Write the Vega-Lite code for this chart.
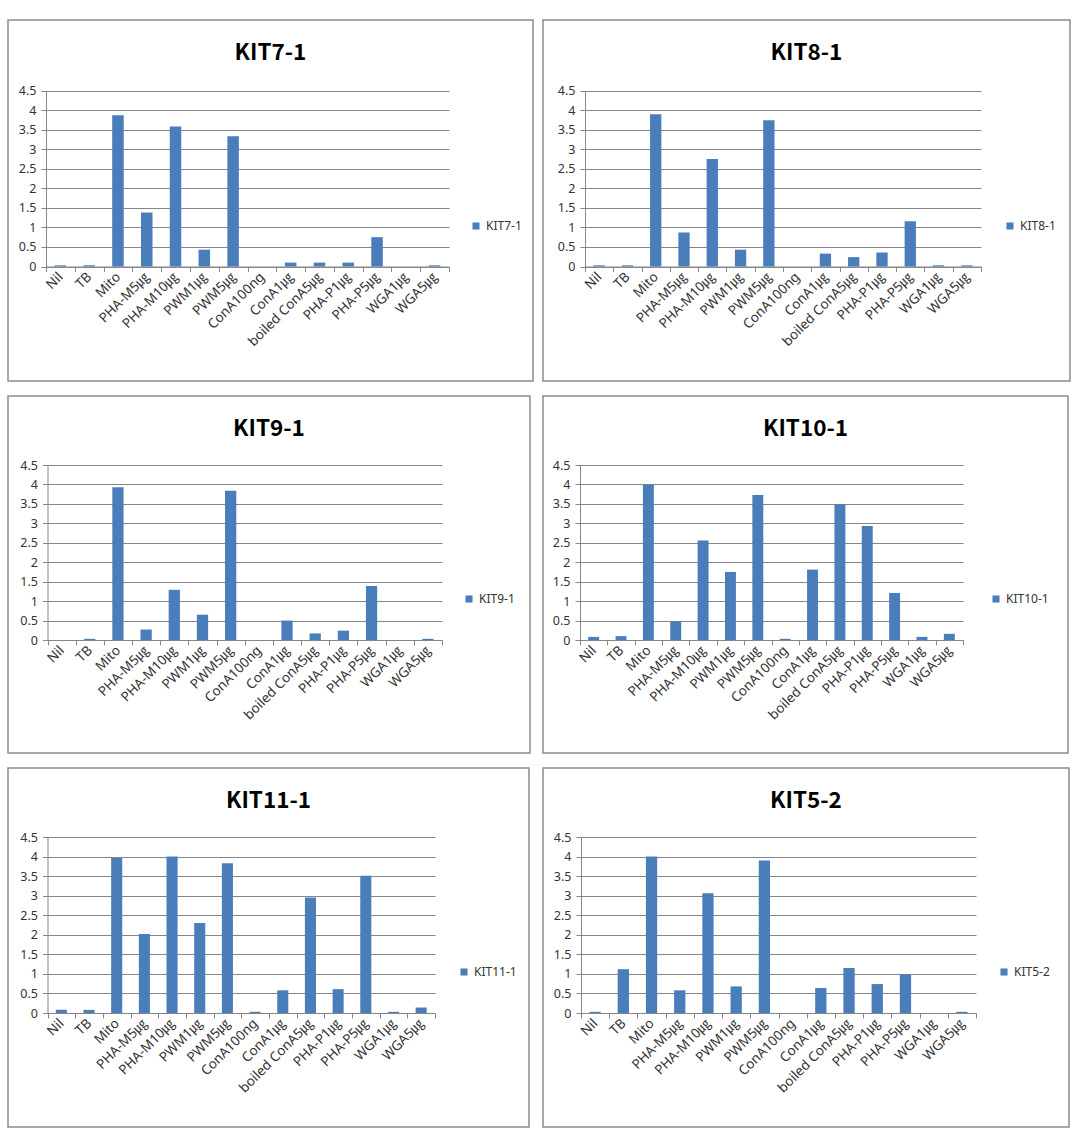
{
  "$schema": "https://vega.github.io/schema/vega-lite/v6.json",
  "padding": {"left": 2, "top": 19, "right": 0, "bottom": 0},
  "background": "white",
  "data": {"values": [
    {"kit": "KIT7-1", "cond": "Nil", "value": 0.03},
    {"kit": "KIT7-1", "cond": "TB", "value": 0.03},
    {"kit": "KIT7-1", "cond": "Mito", "value": 3.87},
    {"kit": "KIT7-1", "cond": "PHA-M5㎍", "value": 1.38},
    {"kit": "KIT7-1", "cond": "PHA-M10㎍", "value": 3.58},
    {"kit": "KIT7-1", "cond": "PWM1㎍", "value": 0.43},
    {"kit": "KIT7-1", "cond": "PWM5㎍", "value": 3.33},
    {"kit": "KIT7-1", "cond": "ConA100ng", "value": 0},
    {"kit": "KIT7-1", "cond": "ConA1㎍", "value": 0.1},
    {"kit": "KIT7-1", "cond": "boiled ConA5㎍", "value": 0.1},
    {"kit": "KIT7-1", "cond": "PHA-P1㎍", "value": 0.1},
    {"kit": "KIT7-1", "cond": "PHA-P5㎍", "value": 0.75},
    {"kit": "KIT7-1", "cond": "WGA1㎍", "value": 0},
    {"kit": "KIT7-1", "cond": "WGA5㎍", "value": 0.03},
    {"kit": "KIT8-1", "cond": "Nil", "value": 0.03},
    {"kit": "KIT8-1", "cond": "TB", "value": 0.03},
    {"kit": "KIT8-1", "cond": "Mito", "value": 3.89},
    {"kit": "KIT8-1", "cond": "PHA-M5㎍", "value": 0.87},
    {"kit": "KIT8-1", "cond": "PHA-M10㎍", "value": 2.75},
    {"kit": "KIT8-1", "cond": "PWM1㎍", "value": 0.43},
    {"kit": "KIT8-1", "cond": "PWM5㎍", "value": 3.74},
    {"kit": "KIT8-1", "cond": "ConA100ng", "value": 0},
    {"kit": "KIT8-1", "cond": "ConA1㎍", "value": 0.33},
    {"kit": "KIT8-1", "cond": "boiled ConA5㎍", "value": 0.24},
    {"kit": "KIT8-1", "cond": "PHA-P1㎍", "value": 0.36},
    {"kit": "KIT8-1", "cond": "PHA-P5㎍", "value": 1.16},
    {"kit": "KIT8-1", "cond": "WGA1㎍", "value": 0.03},
    {"kit": "KIT8-1", "cond": "WGA5㎍", "value": 0.03},
    {"kit": "KIT9-1", "cond": "Nil", "value": 0},
    {"kit": "KIT9-1", "cond": "TB", "value": 0.03},
    {"kit": "KIT9-1", "cond": "Mito", "value": 3.93},
    {"kit": "KIT9-1", "cond": "PHA-M5㎍", "value": 0.27},
    {"kit": "KIT9-1", "cond": "PHA-M10㎍", "value": 1.29},
    {"kit": "KIT9-1", "cond": "PWM1㎍", "value": 0.65},
    {"kit": "KIT9-1", "cond": "PWM5㎍", "value": 3.84},
    {"kit": "KIT9-1", "cond": "ConA100ng", "value": 0},
    {"kit": "KIT9-1", "cond": "ConA1㎍", "value": 0.5},
    {"kit": "KIT9-1", "cond": "boiled ConA5㎍", "value": 0.17},
    {"kit": "KIT9-1", "cond": "PHA-P1㎍", "value": 0.24},
    {"kit": "KIT9-1", "cond": "PHA-P5㎍", "value": 1.39},
    {"kit": "KIT9-1", "cond": "WGA1㎍", "value": 0},
    {"kit": "KIT9-1", "cond": "WGA5㎍", "value": 0.03},
    {"kit": "KIT10-1", "cond": "Nil", "value": 0.08},
    {"kit": "KIT10-1", "cond": "TB", "value": 0.1},
    {"kit": "KIT10-1", "cond": "Mito", "value": 4.0},
    {"kit": "KIT10-1", "cond": "PHA-M5㎍", "value": 0.48},
    {"kit": "KIT10-1", "cond": "PHA-M10㎍", "value": 2.56},
    {"kit": "KIT10-1", "cond": "PWM1㎍", "value": 1.75},
    {"kit": "KIT10-1", "cond": "PWM5㎍", "value": 3.73},
    {"kit": "KIT10-1", "cond": "ConA100ng", "value": 0.03},
    {"kit": "KIT10-1", "cond": "ConA1㎍", "value": 1.81},
    {"kit": "KIT10-1", "cond": "boiled ConA5㎍", "value": 3.49},
    {"kit": "KIT10-1", "cond": "PHA-P1㎍", "value": 2.93},
    {"kit": "KIT10-1", "cond": "PHA-P5㎍", "value": 1.21},
    {"kit": "KIT10-1", "cond": "WGA1㎍", "value": 0.08},
    {"kit": "KIT10-1", "cond": "WGA5㎍", "value": 0.16},
    {"kit": "KIT11-1", "cond": "Nil", "value": 0.08},
    {"kit": "KIT11-1", "cond": "TB", "value": 0.08},
    {"kit": "KIT11-1", "cond": "Mito", "value": 3.96},
    {"kit": "KIT11-1", "cond": "PHA-M5㎍", "value": 2.02},
    {"kit": "KIT11-1", "cond": "PHA-M10㎍", "value": 4.0},
    {"kit": "KIT11-1", "cond": "PWM1㎍", "value": 2.3},
    {"kit": "KIT11-1", "cond": "PWM5㎍", "value": 3.83},
    {"kit": "KIT11-1", "cond": "ConA100ng", "value": 0.03},
    {"kit": "KIT11-1", "cond": "ConA1㎍", "value": 0.58},
    {"kit": "KIT11-1", "cond": "boiled ConA5㎍", "value": 2.95},
    {"kit": "KIT11-1", "cond": "PHA-P1㎍", "value": 0.61},
    {"kit": "KIT11-1", "cond": "PHA-P5㎍", "value": 3.51},
    {"kit": "KIT11-1", "cond": "WGA1㎍", "value": 0.03},
    {"kit": "KIT11-1", "cond": "WGA5㎍", "value": 0.14},
    {"kit": "KIT5-2", "cond": "Nil", "value": 0.03},
    {"kit": "KIT5-2", "cond": "TB", "value": 1.12},
    {"kit": "KIT5-2", "cond": "Mito", "value": 4.0},
    {"kit": "KIT5-2", "cond": "PHA-M5㎍", "value": 0.58},
    {"kit": "KIT5-2", "cond": "PHA-M10㎍", "value": 3.06},
    {"kit": "KIT5-2", "cond": "PWM1㎍", "value": 0.68},
    {"kit": "KIT5-2", "cond": "PWM5㎍", "value": 3.9},
    {"kit": "KIT5-2", "cond": "ConA100ng", "value": 0},
    {"kit": "KIT5-2", "cond": "ConA1㎍", "value": 0.64},
    {"kit": "KIT5-2", "cond": "boiled ConA5㎍", "value": 1.15},
    {"kit": "KIT5-2", "cond": "PHA-P1㎍", "value": 0.74},
    {"kit": "KIT5-2", "cond": "PHA-P5㎍", "value": 0.99},
    {"kit": "KIT5-2", "cond": "WGA1㎍", "value": 0},
    {"kit": "KIT5-2", "cond": "WGA5㎍", "value": 0.03}
  ]},
  "columns": 2,
  "spacing": {"row": 15, "column": 10},
  "bounds": "flush",
  "align": "each",
  "concat": [
    {
      "width": 525, "height": 361,
      "transform": [{"filter": "datum.kit === 'KIT7-1'"}],
      "title": {"text": "KIT7-1"},
      "mark": {"type": "bar", "width": {"band": 0.4}},
      "encoding": {
        "x": {"field": "cond", "type": "nominal", "sort": ["Nil","TB","Mito","PHA-M5㎍","PHA-M10㎍","PWM1㎍","PWM5㎍","ConA100ng","ConA1㎍","boiled ConA5㎍","PHA-P1㎍","PHA-P5㎍","WGA1㎍","WGA5㎍"], "scale": {"range": [38, 441], "paddingInner": 0, "paddingOuter": 0}, "axis": {"offset": -114.5}},
        "y": {"field": "value", "type": "quantitative", "scale": {"domain": [0, 4.5], "range": [246.5, 70.5], "nice": false}, "axis": {"offset": -38}},
        "color": {"field": "kit", "type": "nominal", "scale": {"range": ["#4A7EBB"]}, "legend": {"orient": "none", "legendX": 462, "legendY": 200}}
      }
    },
    {
      "width": 527, "height": 361,
      "transform": [{"filter": "datum.kit === 'KIT8-1'"}],
      "title": {"text": "KIT8-1"},
      "mark": {"type": "bar", "width": {"band": 0.4}},
      "encoding": {
        "x": {"field": "cond", "type": "nominal", "sort": ["Nil","TB","Mito","PHA-M5㎍","PHA-M10㎍","PWM1㎍","PWM5㎍","ConA100ng","ConA1㎍","boiled ConA5㎍","PHA-P1㎍","PHA-P5㎍","WGA1㎍","WGA5㎍"], "scale": {"range": [42, 438], "paddingInner": 0, "paddingOuter": 0}, "axis": {"offset": -114.5}},
        "y": {"field": "value", "type": "quantitative", "scale": {"domain": [0, 4.5], "range": [246.5, 70.5], "nice": false}, "axis": {"offset": -42}},
        "color": {"field": "kit", "type": "nominal", "scale": {"range": ["#4A7EBB"]}, "legend": {"orient": "none", "legendX": 461, "legendY": 200}}
      }
    },
    {
      "width": 522, "height": 357,
      "transform": [{"filter": "datum.kit === 'KIT9-1'"}],
      "title": {"text": "KIT9-1"},
      "mark": {"type": "bar", "width": {"band": 0.4}},
      "encoding": {
        "x": {"field": "cond", "type": "nominal", "sort": ["Nil","TB","Mito","PHA-M5㎍","PHA-M10㎍","PWM1㎍","PWM5㎍","ConA100ng","ConA1㎍","boiled ConA5㎍","PHA-P1㎍","PHA-P5㎍","WGA1㎍","WGA5㎍"], "scale": {"range": [39.5, 434], "paddingInner": 0, "paddingOuter": 0}, "axis": {"offset": -113}},
        "y": {"field": "value", "type": "quantitative", "scale": {"domain": [0, 4.5], "range": [244, 69], "nice": false}, "axis": {"offset": -39.5}},
        "color": {"field": "kit", "type": "nominal", "scale": {"range": ["#4A7EBB"]}, "legend": {"orient": "none", "legendX": 455, "legendY": 197}}
      }
    },
    {
      "width": 525, "height": 357,
      "transform": [{"filter": "datum.kit === 'KIT10-1'"}],
      "title": {"text": "KIT10-1"},
      "mark": {"type": "bar", "width": {"band": 0.4}},
      "encoding": {
        "x": {"field": "cond", "type": "nominal", "sort": ["Nil","TB","Mito","PHA-M5㎍","PHA-M10㎍","PWM1㎍","PWM5㎍","ConA100ng","ConA1㎍","boiled ConA5㎍","PHA-P1㎍","PHA-P5㎍","WGA1㎍","WGA5㎍"], "scale": {"range": [37, 420], "paddingInner": 0, "paddingOuter": 0}, "axis": {"offset": -113}},
        "y": {"field": "value", "type": "quantitative", "scale": {"domain": [0, 4.5], "range": [244, 69], "nice": false}, "axis": {"offset": -37}},
        "color": {"field": "kit", "type": "nominal", "scale": {"range": ["#4A7EBB"]}, "legend": {"orient": "none", "legendX": 447, "legendY": 197}}
      }
    },
    {
      "width": 521, "height": 359,
      "transform": [{"filter": "datum.kit === 'KIT11-1'"}],
      "title": {"text": "KIT11-1"},
      "mark": {"type": "bar", "width": {"band": 0.4}},
      "encoding": {
        "x": {"field": "cond", "type": "nominal", "sort": ["Nil","TB","Mito","PHA-M5㎍","PHA-M10㎍","PWM1㎍","PWM5㎍","ConA100ng","ConA1㎍","boiled ConA5㎍","PHA-P1㎍","PHA-P5㎍","WGA1㎍","WGA5㎍"], "scale": {"range": [39.5, 427], "paddingInner": 0, "paddingOuter": 0}, "axis": {"offset": -114}},
        "y": {"field": "value", "type": "quantitative", "scale": {"domain": [0, 4.5], "range": [245, 69], "nice": false}, "axis": {"offset": -39.5}},
        "color": {"field": "kit", "type": "nominal", "scale": {"range": ["#4A7EBB"]}, "legend": {"orient": "none", "legendX": 450, "legendY": 198}}
      }
    },
    {
      "width": 526, "height": 359,
      "transform": [{"filter": "datum.kit === 'KIT5-2'"}],
      "title": {"text": "KIT5-2"},
      "mark": {"type": "bar", "width": {"band": 0.4}},
      "encoding": {
        "x": {"field": "cond", "type": "nominal", "sort": ["Nil","TB","Mito","PHA-M5㎍","PHA-M10㎍","PWM1㎍","PWM5㎍","ConA100ng","ConA1㎍","boiled ConA5㎍","PHA-P1㎍","PHA-P5㎍","WGA1㎍","WGA5㎍"], "scale": {"range": [38, 433], "paddingInner": 0, "paddingOuter": 0}, "axis": {"offset": -114}},
        "y": {"field": "value", "type": "quantitative", "scale": {"domain": [0, 4.5], "range": [245, 69], "nice": false}, "axis": {"offset": -38}},
        "color": {"field": "kit", "type": "nominal", "scale": {"range": ["#4A7EBB"]}, "legend": {"orient": "none", "legendX": 455, "legendY": 198}}
      }
    }
  ],
  "resolve": {"scale": {"color": "independent"}, "legend": {"color": "independent"}},
  "config": {
    "view": {"stroke": "#8c8c8c", "strokeWidth": 1.5, "fill": "white"},
    "font": "Noto Sans",
    "title": {"font": "Noto Sans CJK KR", "fontSize": 22.5, "fontWeight": "bold", "color": "#000000", "anchor": "middle", "offset": -44},
    "axis": {
      "title": null,
      "labelFont": "Noto Sans, Noto Sans CJK KR",
      "labelFontSize": 12.5,
      "labelColor": "#333333",
      "domainColor": "#868686",
      "tickColor": "#868686",
      "gridColor": "#868686",
      "gridOpacity": 1,
      "tickSize": 5,
      "minExtent": 0,
      "labelOverlap": false,
      "labelBound": false,
      "labelLimit": 0
    },
    "axisX": {"grid": false, "tickBand": "extent", "labelAngle": -45, "labelAlign": "right", "labelBaseline": "middle", "labelPadding": 3, "labelFontSize": 13.5},
    "axisY": {"grid": true, "values": [0, 0.5, 1, 1.5, 2, 2.5, 3, 3.5, 4, 4.5], "format": "~g", "labelPadding": 5},
    "legend": {"title": null, "symbolType": "square", "symbolSize": 50, "symbolStrokeWidth": 0, "labelFont": "Noto Sans", "labelFontSize": 12, "labelColor": "#333333"}
  }
}
